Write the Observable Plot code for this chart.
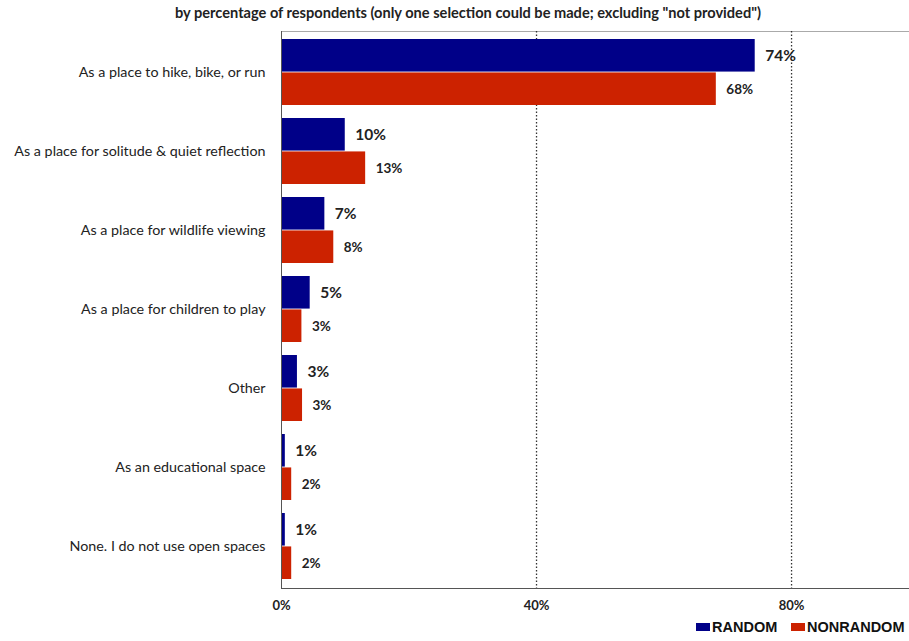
<!DOCTYPE html>
<html>
<head>
<meta charset="utf-8">
<script src="https://cdn.jsdelivr.net/npm/d3@7"></script>
<script src="https://cdn.jsdelivr.net/npm/@observablehq/plot@0.6"></script>
<style>
  html, body { margin: 0; padding: 0; background: #fff; overflow: hidden; }
  body { width: 909px; font-family: Lato, "Open Sans", sans-serif; }
  #title { box-sizing: border-box; width: 909px; height: 26px; padding-left: 27px; text-align: center;
           font: bold 14.6px Lato, sans-serif; color: #222; line-height: 26px; white-space: nowrap; }
  #legend { position: relative; height: 23px; white-space: nowrap; overflow: hidden;
            font: bold 14.5px "Liberation Sans", Arial, sans-serif; color: #111; }
  .item { position: absolute; top: 1px; display: flex; align-items: center; }
  .sw { display: inline-block; width: 14px; height: 8px; margin-right: 2px; }
</style>
</head>
<body>
<div id="title">by percentage of respondents (only one selection could be made; excluding "not provided")</div>
<div id="chart"></div>
<div id="legend"></div>
<script>
const categories = [
  "As a place to hike, bike, or run",
  "As a place for solitude & quiet reflection",
  "As a place for wildlife viewing",
  "As a place for children to play",
  "Other",
  "As an educational space",
  "None. I do not use open spaces"
];
const random = [74.3, 10.0, 6.8, 4.5, 2.5, 0.6, 0.6];
const nonrandom = [68.2, 13.2, 8.2, 3.2, 3.3, 1.6, 1.6];
const seriesNames = ["RANDOM", "NONRANDOM"];
const seriesColors = ["#000088", "#cc2200"];
const xTicks = [0, 40, 80];

const rowsR = categories.map((c, i) => ({category: c, value: random[i], label: Math.round(random[i]) + "%"}));
const rowsN = categories.map((c, i) => ({category: c, value: nonrandom[i], label: Math.round(nonrandom[i]) + "%"}));

const width = 909, height = 592, marginTop = 5, marginBottom = 30;
const paddingInner = 0.16, paddingOuter = 0.08;
const innerH = height - marginTop - marginBottom;
const step = innerH / (categories.length - paddingInner + 2 * paddingOuter);
const half = step * (1 - paddingInner) / 2;

const chart = Plot.plot({
  width, height,
  marginLeft: 281, marginRight: 0, marginTop, marginBottom,
  style: {fontFamily: "Lato, sans-serif", color: "#222", background: "#fff"},
  x: {domain: [0, 98.5]},
  y: {domain: categories, paddingInner, paddingOuter},
  marks: [
    Plot.frame({anchor: "top", stroke: "#aaa"}),
    Plot.ruleX([40, 80], {stroke: "#333", strokeDasharray: "1.5,2", strokeWidth: 1.3}),
    Plot.barX(rowsR, {x: "value", y: "category", fill: seriesColors[0], insetBottom: half, insetTop: 0}),
    Plot.barX(rowsN, {x: "value", y: "category", fill: seriesColors[1], insetTop: half, insetBottom: 0}),
    Plot.text(rowsR, {x: "value", y: "category", text: "label", dx: 10, dy: -half / 2, textAnchor: "start",
      fontWeight: "bold", fontSize: 15.5, fill: "#222"}),
    Plot.text(rowsN, {x: "value", y: "category", text: "label", dx: 10, dy: half / 2, textAnchor: "start",
      fontWeight: "bold", fontSize: 13.5, fill: "#222"}),
    Plot.ruleX([0], {stroke: "#555"}),
    Plot.frame({anchor: "bottom", stroke: "#555"}),
    Plot.axisY({tickSize: 0, tickPadding: 16, fontSize: 14.3, label: null}),
    Plot.axisX({ticks: xTicks, tickFormat: d => d + "%", tickSize: 0, tickPadding: 12,
      fontWeight: "bold", fontSize: 13, label: null})
  ]
});
document.getElementById("chart").appendChild(chart);

const legend = document.getElementById("legend");
const legendX = [696, 791];
seriesNames.forEach((name, i) => {
  const item = document.createElement("div");
  item.className = "item";
  item.style.left = legendX[i] + "px";
  const sw = document.createElement("span");
  sw.className = "sw";
  sw.style.background = seriesColors[i];
  item.appendChild(sw);
  item.appendChild(document.createTextNode(name));
  legend.appendChild(item);
});
</script>
</body>
</html>
